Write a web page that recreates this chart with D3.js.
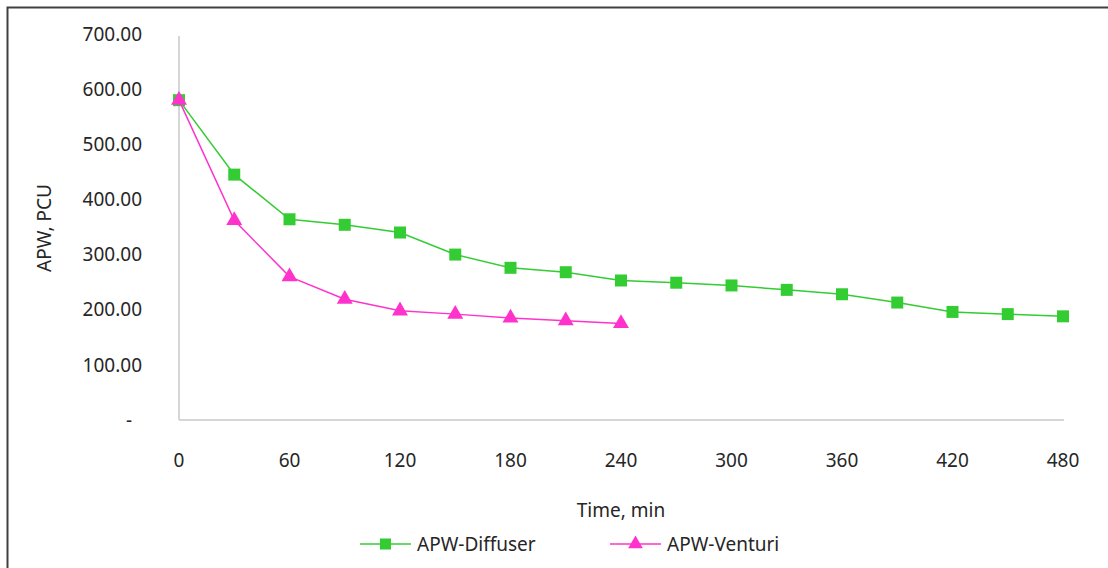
<!DOCTYPE html>
<html>
<head>
<meta charset="utf-8">
<script src="https://cdn.jsdelivr.net/npm/d3@7"></script>
<style>
  body { margin: 0; background: #fff; }
  text { font-family: "Noto Sans", sans-serif; fill: #262626; }
</style>
</head>
<body>
<div id="chart"></div>
<script>
// data
const time = [0, 30, 60, 90, 120, 150, 180, 210, 240, 270, 300, 330, 360, 390, 420, 450, 480];
const diffuser = [580, 445, 364, 354, 340, 300, 276, 268, 253, 249, 244, 236, 228, 213, 196, 192, 188];
const venturi = [580, 362, 260, 219, 198, 192, 185, 180, 175];
const xTicks = [0, 60, 120, 180, 240, 300, 360, 420, 480];
const yTicks = [0, 100, 200, 300, 400, 500, 600, 700];

const W = 1108, H = 568;
const svg = d3.select("#chart").append("svg")
  .attr("width", W)
  .attr("height", H);

// outer frame (only top and left show)
svg.append("rect")
  .attr("x", 7.5).attr("y", 7.5)
  .attr("width", W + 10).attr("height", H + 10)
  .attr("fill", "none")
  .attr("stroke", "#404040")
  .attr("stroke-width", 2);

const x = d3.scaleLinear().domain([0, 480]).range([179, 1063]);
const y = d3.scaleLinear().domain([0, 700]).range([420, 34]);

// axes lines
svg.append("line")
  .attr("x1", x(0)).attr("x2", x(0))
  .attr("y1", 36).attr("y2", y(0))
  .attr("stroke", "#c8c8c8").attr("stroke-width", 1.5);
svg.append("line")
  .attr("x1", x(0)).attr("x2", x(480) + 1)
  .attr("y1", y(0)).attr("y2", y(0))
  .attr("stroke", "#c8c8c8").attr("stroke-width", 1.5);

// y tick labels
svg.selectAll(".ylab")
  .data(yTicks)
  .join("text")
  .attr("class", "ylab")
  .attr("x", 142)
  .attr("y", d => y(d))
  .attr("dy", "0.35em")
  .attr("text-anchor", "end")
  .style("font-size", "19px")
  .text(d => d === 0 ? "-" : d3.format(".2f")(d))
  .attr("dx", d => d === 0 ? -10 : 0);

// x tick labels
svg.selectAll(".xlab")
  .data(xTicks)
  .join("text")
  .attr("class", "xlab")
  .attr("x", d => x(d))
  .attr("y", 467)
  .attr("text-anchor", "middle")
  .style("font-size", "19px")
  .text(d => d);

// axis titles
svg.append("text")
  .attr("transform", "translate(51,228) rotate(-90)")
  .attr("text-anchor", "middle")
  .style("font-size", "19px")
  .text("APW, PCU");
svg.append("text")
  .attr("x", 621)
  .attr("y", 517)
  .attr("text-anchor", "middle")
  .style("font-size", "19px")
  .text("Time, min");

const series = [
  { name: "APW-Diffuser", color: "#33cc33", values: diffuser, shape: d3.symbolSquare, size: 144 },
  { name: "APW-Venturi", color: "#ff33cc", values: venturi, shape: d3.symbolTriangle, size: 110 }
];

const line = d3.line()
  .x(d => x(d.t))
  .y(d => y(d.v));

series.forEach(s => {
  const pts = s.values.map((v, i) => ({ t: time[i], v: v }));
  svg.append("path")
    .datum(pts)
    .attr("fill", "none")
    .attr("stroke", s.color)
    .attr("stroke-width", 1.5)
    .attr("d", line);
  svg.selectAll(null)
    .data(pts)
    .join("path")
    .attr("transform", d => `translate(${x(d.t)},${y(d.v)})`)
    .attr("d", d3.symbol().type(s.shape).size(s.size))
    .attr("fill", s.color);
});

// legend
const legend = svg.selectAll("g.legend")
  .data(series)
  .join("g")
  .attr("class", "legend")
  .attr("transform", (d, i) => `translate(${360 + i * 250},544)`);

legend.append("line")
  .attr("x1", 0).attr("x2", 51)
  .attr("y1", 0).attr("y2", 0)
  .attr("stroke", d => d.color)
  .attr("stroke-width", 1.5);
legend.append("path")
  .attr("transform", "translate(25.5,0)")
  .attr("d", d => d3.symbol().type(d.shape).size(d.size * 0.85)())
  .attr("fill", d => d.color);
legend.append("text")
  .attr("x", 57)
  .attr("y", 0)
  .attr("dy", "0.35em")
  .style("font-size", "19px")
  .text(d => d.name);
</script>
</body>
</html>
